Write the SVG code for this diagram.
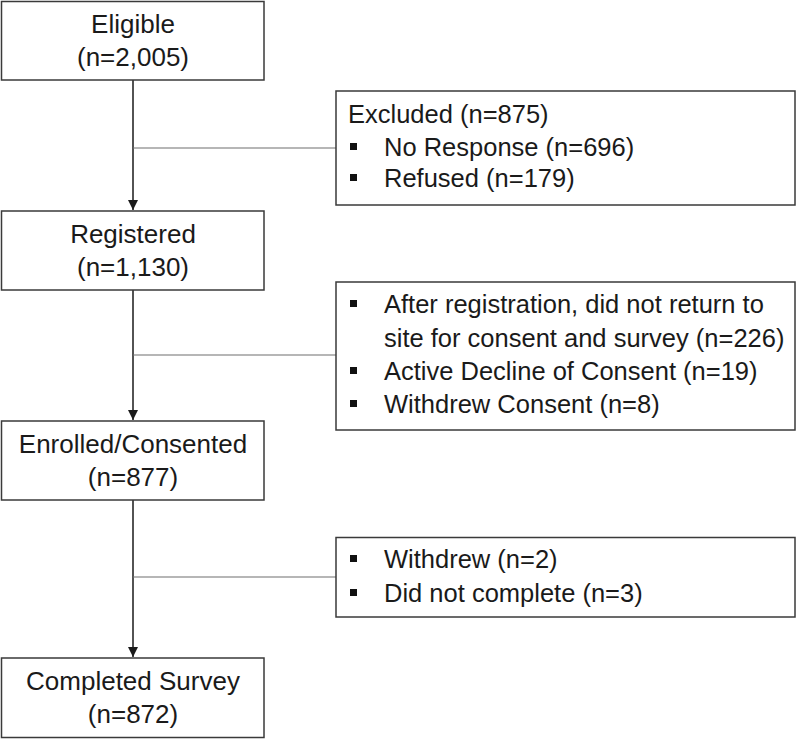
<svg xmlns="http://www.w3.org/2000/svg" width="800" height="739" viewBox="0 0 800 739">
<style>
.box{fill:#fff;stroke:#3a3a3a;stroke-width:1.5}
.t{font-family:"Liberation Sans",Arial,sans-serif;font-size:26px;fill:#1a1a1a}
.c{text-anchor:middle}
.r{font-size:25.5px}
.arrow{stroke:#1a1a1a;stroke-width:1.5;fill:none;marker-end:url(#ah)}
.branch{stroke:#6e6e6e;stroke-width:1.2;fill:none}
.bul{fill:#111}
</style>
<defs>
<marker id="ah" markerWidth="10" markerHeight="11" refX="10" refY="5" orient="auto" markerUnits="userSpaceOnUse">
<path d="M0,0 L10,5 L0,10 Z" fill="#1a1a1a"/>
</marker>
</defs>
<g id="connectors">
<line class="arrow" x1="133" y1="80" x2="133" y2="210"/>
<line class="branch" x1="133" y1="148" x2="336" y2="148"/>
<line class="arrow" x1="133" y1="290" x2="133" y2="420"/>
<line class="branch" x1="133" y1="355" x2="336" y2="355"/>
<line class="arrow" x1="133" y1="500" x2="133" y2="657"/>
<line class="branch" x1="133" y1="577" x2="336" y2="577"/>
</g>
<g id="eligible">
<rect class="box" x="1.5" y="1.5" width="262.5" height="78.5"/>
<text class="t c" x="133" y="33">Eligible</text>
<text class="t c" x="133" y="66">(n=2,005)</text>
</g>
<g id="excluded">
<rect class="box" x="336" y="91" width="459" height="114"/>
<text class="t r" x="348" y="123">Excluded (n=875)</text>
<rect class="bul" x="350" y="143" width="7" height="7"/>
<text class="t r" x="384" y="156">No Response (n=696)</text>
<rect class="bul" x="350" y="174" width="7" height="7"/>
<text class="t r" x="384" y="187">Refused (n=179)</text>
</g>
<g id="registered">
<rect class="box" x="1.5" y="211" width="262.5" height="79"/>
<text class="t c" x="133" y="243">Registered</text>
<text class="t c" x="133" y="276">(n=1,130)</text>
</g>
<g id="lost-after-registration">
<rect class="box" x="336" y="282" width="459" height="148"/>
<rect class="bul" x="350" y="300" width="7" height="7"/>
<text class="t r" x="384" y="313">After registration, did not return to</text>
<text class="t r" x="384" y="347">site for consent and survey (n=226)</text>
<rect class="bul" x="350" y="367" width="7" height="7"/>
<text class="t r" x="384" y="380">Active Decline of Consent (n=19)</text>
<rect class="bul" x="350" y="400" width="7" height="7"/>
<text class="t r" x="384" y="413">Withdrew Consent (n=8)</text>
</g>
<g id="enrolled">
<rect class="box" x="1.5" y="421" width="262.5" height="79"/>
<text class="t c" x="133" y="453">Enrolled/Consented</text>
<text class="t c" x="133" y="486">(n=877)</text>
</g>
<g id="lost-after-enrollment">
<rect class="box" x="336" y="537.5" width="459" height="79.5"/>
<rect class="bul" x="350" y="555" width="7" height="7"/>
<text class="t r" x="384" y="568">Withdrew (n=2)</text>
<rect class="bul" x="350" y="589" width="7" height="7"/>
<text class="t r" x="384" y="602">Did not complete (n=3)</text>
</g>
<g id="completed">
<rect class="box" x="1.5" y="658" width="262.5" height="79.5"/>
<text class="t c" x="133" y="690">Completed Survey</text>
<text class="t c" x="133" y="723">(n=872)</text>
</g>
</svg>
